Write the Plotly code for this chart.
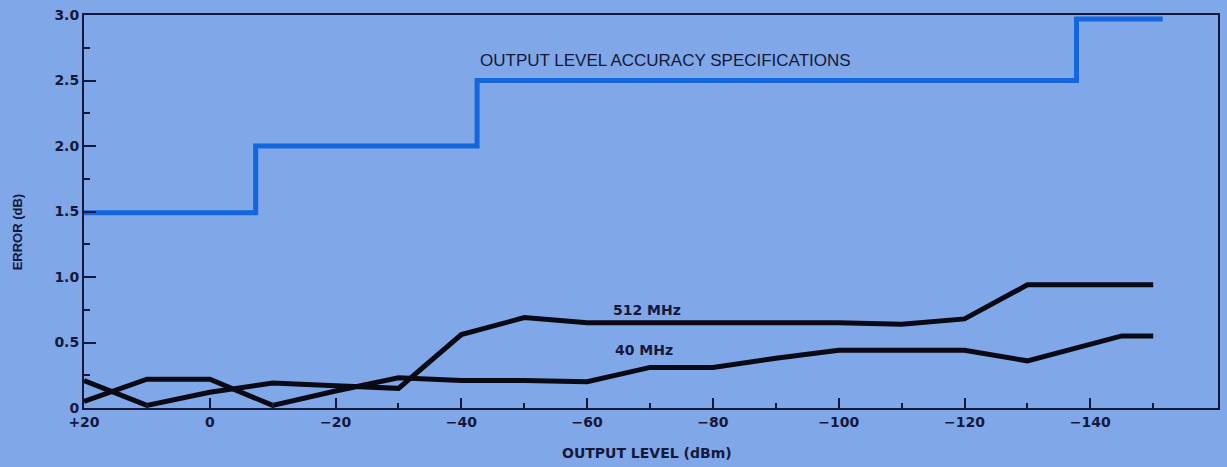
import plotly.graph_objects as go

# Data
levels = [20, 10, 0, -10, -20, -30, -40, -50, -60, -70, -80, -90, -100, -110, -120, -130, -140, -150]
err_512 = [0.21, 0.02, 0.12, 0.19, 0.17, 0.15, 0.56, 0.69, 0.65, 0.65, 0.65, 0.65, 0.65, 0.64, 0.68, 0.94, 0.94, 0.94]
err_40_x = [20, 10, 0, -10, -20, -30, -40, -50, -60, -70, -80, -90, -100, -110, -120, -130, -145, -150]
err_40 = [0.05, 0.22, 0.22, 0.02, 0.13, 0.23, 0.21, 0.21, 0.20, 0.31, 0.31, 0.38, 0.44, 0.44, 0.44, 0.36, 0.55, 0.55]
spec_x = [20, -7.3, -7.3, -42.5, -42.5, -137.8, -137.8, -151.5]
spec_y = [1.49, 1.49, 2.0, 2.0, 2.5, 2.5, 2.97, 2.97]

x_tickvals = [20, 0, -20, -40, -60, -80, -100, -120, -140]
x_ticktext = ["+20", "0", "\u221220", "\u221240", "\u221260", "\u221280", "\u2212100", "\u2212120", "\u2212140"]
x_minor = [10, -10, -30, -50, -70, -90, -110, -130, -150]
y_tickvals = [0, 0.5, 1.0, 1.5, 2.0, 2.5, 3.0]
y_ticktext = ["0", "0.5", "1.0", "1.5", "2.0", "2.5", "3.0"]
y_minor = [0.25, 0.75, 1.25, 1.75, 2.25, 2.75]

BG = "#80a7e8"
INK = "#14183a"
SPEC = "#1466dc"

fig = go.Figure()
fig.add_trace(go.Scatter(x=spec_x, y=spec_y, mode="lines",
                         line=dict(color=SPEC, width=5), hoverinfo="skip"))
fig.add_trace(go.Scatter(x=levels, y=err_512, mode="lines",
                         line=dict(color="#0a0a14", width=5), hoverinfo="skip"))
fig.add_trace(go.Scatter(x=err_40_x, y=err_40, mode="lines",
                         line=dict(color="#0a0a14", width=5), hoverinfo="skip"))

F = "DejaVu Sans, Verdana, sans-serif"
FL = "Liberation Sans, Arial, sans-serif"

L, R, T, B = 84, 1220, 10, 408

fig.update_layout(
    width=1227, height=467,
    margin=dict(l=L, r=1227 - R, t=T, b=467 - B),
    paper_bgcolor=BG, plot_bgcolor=BG,
    showlegend=False,
    font=dict(family=F, color=INK, size=13),
    xaxis=dict(range=[20, -160.3], showgrid=False, zeroline=False,
               showline=True, linecolor=INK, linewidth=2, mirror=True,
               ticks="inside", ticklen=10, tickwidth=1.5, tickcolor=INK,
               tickvals=x_tickvals, ticktext=x_ticktext,
               tickfont=dict(size=14, color=INK, family=F, weight="bold"),
               minor=dict(tickvals=x_minor, ticks="inside", ticklen=5, tickwidth=1.5, tickcolor=INK)),
    yaxis=dict(range=[0, 3.0], showgrid=False, zeroline=False,
               showline=True, linecolor=INK, linewidth=2, mirror=True,
               ticks="inside", ticklen=12, tickwidth=1.5, tickcolor=INK,
               tickvals=y_tickvals, ticktext=y_ticktext,
               tickfont=dict(size=14, color=INK, family=F, weight="bold"),
               minor=dict(tickvals=y_minor, ticks="inside", ticklen=6, tickwidth=1.5, tickcolor=INK)),
    annotations=[
        dict(x=-72.5, y=2.65, xref="x", yref="y", text="OUTPUT LEVEL ACCURACY SPECIFICATIONS",
             showarrow=False, font=dict(size=17, color=INK, family=FL)),
        dict(x=-69.5, y=0.745, xref="x", yref="y", text="512 MHz",
             showarrow=False, font=dict(size=14, color=INK, family=F, weight="bold")),
        dict(x=-69, y=0.44, xref="x", yref="y", text="40 MHz",
             showarrow=False, font=dict(size=14, color=INK, family=F, weight="bold")),
        dict(x=(648 - L) / (R - L), y=-(454 - B) / (B - T), xref="paper", yref="paper",
             text="OUTPUT LEVEL (dBm)", showarrow=False, yanchor="middle",
             font=dict(size=14, color=INK, family=F, weight="bold")),
        dict(x=-(L - 17) / (R - L), y=(B - 230) / (B - T), xref="paper", yref="paper",
             text="ERROR (dB)", textangle=-90, showarrow=False, xanchor="center", yanchor="middle",
             font=dict(size=13, color=INK, family=FL, weight="bold")),
    ],
)

fig.write_html("out.html", config={"displayModeBar": False},
               post_script="document.body.style.margin='0';document.body.style.overflow='hidden';")
